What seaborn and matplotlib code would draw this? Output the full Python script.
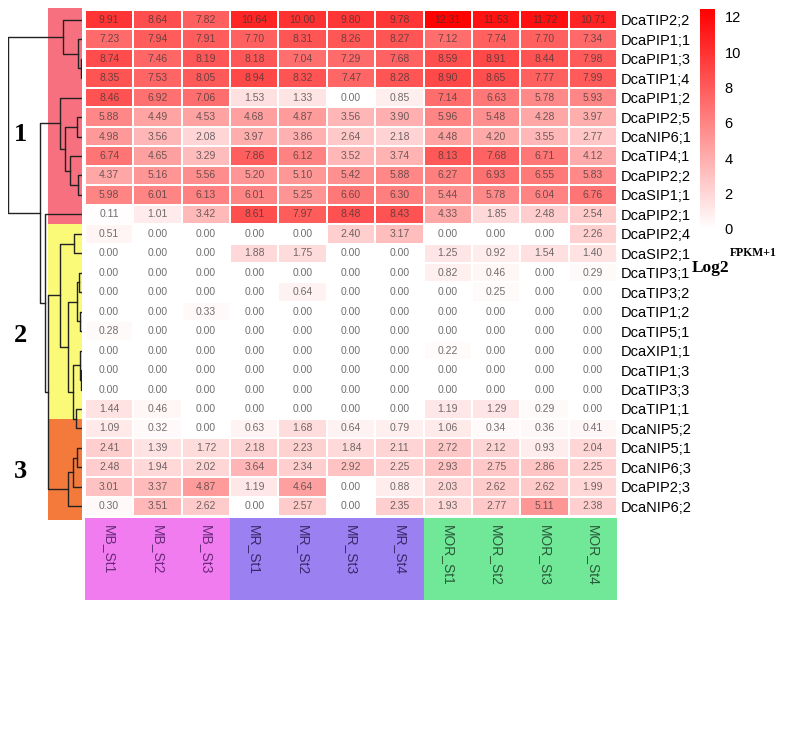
import numpy as np
import pandas as pd
import matplotlib
matplotlib.use("Agg")
import matplotlib.pyplot as plt
import seaborn as sns
from matplotlib.colors import LinearSegmentedColormap

plt.rcParams['font.family'] = ['Liberation Sans', 'DejaVu Sans']

samples = ['MB_St1', 'MB_St2', 'MB_St3', 'MR_St1', 'MR_St2', 'MR_St3', 'MR_St4',
           'MOR_St1', 'MOR_St2', 'MOR_St3', 'MOR_St4']

genes = ['DcaTIP2;2', 'DcaPIP1;1', 'DcaPIP1;3', 'DcaTIP1;4', 'DcaPIP1;2', 'DcaPIP2;5',
         'DcaNIP6;1', 'DcaTIP4;1', 'DcaPIP2;2', 'DcaSIP1;1', 'DcaPIP2;1',
         'DcaPIP2;4', 'DcaSIP2;1', 'DcaTIP3;1', 'DcaTIP3;2', 'DcaTIP1;2', 'DcaTIP5;1',
         'DcaXIP1;1', 'DcaTIP1;3', 'DcaTIP3;3', 'DcaTIP1;1', 'DcaNIP5;2',
         'DcaNIP5;1', 'DcaNIP6;3', 'DcaPIP2;3', 'DcaNIP6;2']

# log2(FPKM+1), cluster 1
cluster1_vals = [
    [9.91, 8.64, 7.82, 10.64, 10.00, 9.80, 9.78, 12.31, 11.53, 11.72, 10.71],
    [7.23, 7.94, 7.91, 7.70, 8.31, 8.26, 8.27, 7.12, 7.74, 7.70, 7.34],
    [8.74, 7.46, 8.19, 8.18, 7.04, 7.29, 7.68, 8.59, 8.91, 8.44, 7.98],
    [8.35, 7.53, 8.05, 8.94, 8.32, 7.47, 8.28, 8.90, 8.65, 7.77, 7.99],
    [8.46, 6.92, 7.06, 1.53, 1.33, 0.00, 0.85, 7.14, 6.63, 5.78, 5.93],
    [5.88, 4.49, 4.53, 4.68, 4.87, 3.56, 3.90, 5.96, 5.48, 4.28, 3.97],
    [4.98, 3.56, 2.08, 3.97, 3.86, 2.64, 2.18, 4.48, 4.20, 3.55, 2.77],
    [6.74, 4.65, 3.29, 7.86, 6.12, 3.52, 3.74, 8.13, 7.68, 6.71, 4.12],
    [4.37, 5.16, 5.56, 5.20, 5.10, 5.42, 5.88, 6.27, 6.93, 6.55, 5.83],
    [5.98, 6.01, 6.13, 6.01, 5.25, 6.60, 6.30, 5.44, 5.78, 6.04, 6.76],
    [0.11, 1.01, 3.42, 8.61, 7.97, 8.48, 8.43, 4.33, 1.85, 2.48, 2.54],
]
# cluster 2
cluster2_vals = [
    [0.51, 0.00, 0.00, 0.00, 0.00, 2.40, 3.17, 0.00, 0.00, 0.00, 2.26],
    [0.00, 0.00, 0.00, 1.88, 1.75, 0.00, 0.00, 1.25, 0.92, 1.54, 1.40],
    [0.00, 0.00, 0.00, 0.00, 0.00, 0.00, 0.00, 0.82, 0.46, 0.00, 0.29],
    [0.00, 0.00, 0.00, 0.00, 0.64, 0.00, 0.00, 0.00, 0.25, 0.00, 0.00],
    [0.00, 0.00, 0.33, 0.00, 0.00, 0.00, 0.00, 0.00, 0.00, 0.00, 0.00],
    [0.28, 0.00, 0.00, 0.00, 0.00, 0.00, 0.00, 0.00, 0.00, 0.00, 0.00],
    [0.00, 0.00, 0.00, 0.00, 0.00, 0.00, 0.00, 0.22, 0.00, 0.00, 0.00],
    [0.00, 0.00, 0.00, 0.00, 0.00, 0.00, 0.00, 0.00, 0.00, 0.00, 0.00],
    [0.00, 0.00, 0.00, 0.00, 0.00, 0.00, 0.00, 0.00, 0.00, 0.00, 0.00],
    [1.44, 0.46, 0.00, 0.00, 0.00, 0.00, 0.00, 1.19, 1.29, 0.29, 0.00],
    [1.09, 0.32, 0.00, 0.63, 1.68, 0.64, 0.79, 1.06, 0.34, 0.36, 0.41],
]
# cluster 3
cluster3_vals = [
    [2.41, 1.39, 1.72, 2.18, 2.23, 1.84, 2.11, 2.72, 2.12, 0.93, 2.04],
    [2.48, 1.94, 2.02, 3.64, 2.34, 2.92, 2.25, 2.93, 2.75, 2.86, 2.25],
    [3.01, 3.37, 4.87, 1.19, 4.64, 0.00, 0.88, 2.03, 2.62, 2.62, 1.99],
    [0.30, 3.51, 2.62, 0.00, 2.57, 0.00, 2.35, 1.93, 2.77, 5.11, 2.38],
]

# row dendrogram: [left, right, merge height], leaves are row numbers
tree = [[0, [1, [2, 3, 1.5], 4], 19],
        [[4, [[5, 6, 5], [7, [8, 9, 4], 12], 17], 22],
         [10, [[[11, 12, 8],
                [[[13, 14, 3], [15, 16, 2], 5], [[17, [18, 19, 1], 2], [20, 21, 6], 9], 14], 22],
               [[[22, 23, 5], 24, 9], 25, 14], 34], 37], 42], 74]

cluster_names = ['1', '2', '3']
cluster_colors = ['#f7707f', '#fafa78', '#f47a3c']
band_edges = [-0.1, 11, 21, 26.2]       # colored bands as drawn in the figure (row units)
label_rows = [6.4, 16.7, 23.7]

groups = ['MB', 'MR', 'MOR']
group_colors = ['#f07cf0', '#9a80f0', '#70e898']
group_text = ['#6a2a7a', '#3a2a6a', '#2a5a3a']

df = pd.DataFrame(cluster1_vals + cluster2_vals + cluster3_vals, index=genes, columns=samples)

W, H = 788, 748
fig = plt.figure(figsize=(W / 100, H / 100), dpi=100)


def box(x0, y0, x1, y1):
    return [x0 / W, 1 - y1 / H, (x1 - x0) / W, (y1 - y0) / H]


ax_hm = fig.add_axes(box(85, 10, 617, 516))
ax_dn = fig.add_axes(box(8, 10, 82, 516))
ax_cb = fig.add_axes(box(700, 9, 715, 229))
ax_col = fig.add_axes(box(85, 518, 617, 600))

cmap = LinearSegmentedColormap.from_list('wr', ['#ffffff', '#ff0000'])
sns.heatmap(df, ax=ax_hm, cmap=cmap, vmin=0, vmax=12.45, annot=True, fmt='.2f',
            annot_kws={'size': 7.5, 'color': '#333333', 'alpha': 0.7},
            linewidths=1.2, linecolor='white',
            cbar_ax=ax_cb, xticklabels=False, yticklabels=True)
ax_hm.yaxis.tick_right()
ax_hm.tick_params(axis='y', length=0, pad=3, labelsize=10.5, rotation=0)
ax_hm.set_xlabel('')
ax_hm.set_ylabel('')

cb = ax_hm.collections[0].colorbar
cb.outline.set_visible(False)
cb.set_ticks(range(0, 13, 2))
ax_cb.tick_params(length=0, labelsize=10.5, pad=7)

fig.text(730 / W, 1 - 253 / H, 'FPKM+1', family='Liberation Serif', weight='bold', size=8.5,
         va='center')
fig.text(692 / W, 1 - 268 / H, 'Log2', family='Liberation Serif', weight='bold', size=12.5,
         va='center')

# dendrogram with cluster bands
n_rows = len(genes)
ax_dn.set_ylim(n_rows, 0)
ax_dn.set_xlim(74, 0)
ax_dn.axis('off')
for i, (name, col) in enumerate(zip(cluster_names, cluster_colors)):
    ax_dn.axhspan(band_edges[i], band_edges[i + 1], xmin=40 / 74, xmax=1, color=col, lw=0,
                  zorder=0, clip_on=False)
    ax_dn.text(0.17, label_rows[i], name, transform=ax_dn.get_yaxis_transform(),
               family='Liberation Serif', weight='bold', size=19, ha='center', va='center')


def draw(node):
    if not isinstance(node, list):
        return node + 0.5, 0
    ya, ha = draw(node[0])
    yb, hb = draw(node[1])
    h = node[2]
    ax_dn.plot([ha, h, h, hb], [ya, ya, yb, yb], color='#222222', lw=1, zorder=2)
    return (ya + yb) / 2, h


draw(tree)

# sample group boxes
ax_col.set_xlim(0, len(samples))
ax_col.set_ylim(1, 0)
ax_col.axis('off')
pos = 0
for g, col, tc in zip(groups, group_colors, group_text):
    n = sum(s.split('_')[0] == g for s in samples)
    ax_col.axvspan(pos, pos + n, color=col, lw=0)
    for i in range(pos, pos + n):
        ax_col.text(i + 0.5, 0.08, samples[i], rotation=-90, ha='center', va='top',
                    size=10, color=tc)
    pos += n

fig.savefig('out.png', dpi=100)
